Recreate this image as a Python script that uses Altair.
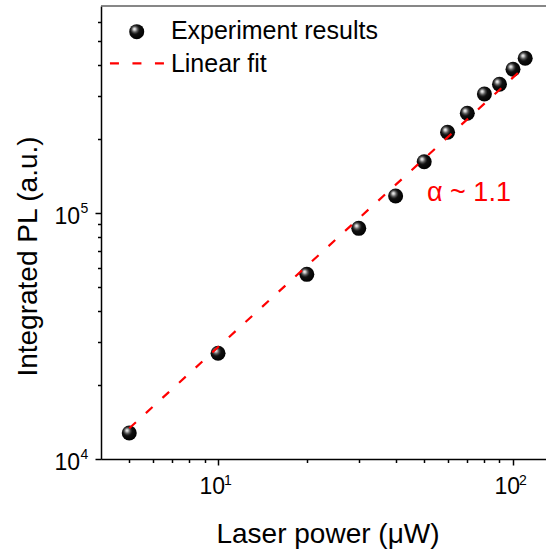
import altair as alt
import pandas as pd

# Measured integrated PL versus excitation power
power_uw = [5, 10, 20, 30, 40, 50, 60, 70, 80, 90, 100, 110]
pl_counts = [12760, 26900, 56300, 86600, 117300, 161600, 212800,
             254300, 304600, 333700, 383900, 425600]

# Power-law fit (slope ~1.1 on log-log axes), end points
fit_power = [5, 110]
fit_pl = [13330, 394500]

# Axis ticks
x_ticks = [5, 6, 7, 8, 9, 10, 20, 30, 40, 50, 60, 70, 80, 90, 100]
y_ticks = [1e4, 2e4, 3e4, 4e4, 5e4, 6e4, 7e4, 8e4, 9e4,
           1e5, 2e5, 3e5, 4e5, 5e5, 6e5]
x_decades = [10, 100]
x_exponents = ["1", "2"]
y_decades = [1e4, 1e5]
y_exponents = ["4", "5"]

X_DOMAIN = [4.01, 129.4]
Y_DOMAIN = [1e4, 6.94e5]

FONT = "Liberation Sans"
RED = "#ff0000"
DASH = [9, 13.5]

xscale = alt.Scale(type="log", domain=X_DOMAIN, nice=False, zero=False)
yscale = alt.Scale(type="log", domain=Y_DOMAIN, nice=False, zero=False)

sphere = alt.RadialGradient(
    gradient="radial",
    x1=0.34, y1=0.32, r1=0.0,
    x2=0.42, y2=0.42, r2=0.62,
    stops=[
        alt.GradientStop(offset=0.0, color="#ffffff"),
        alt.GradientStop(offset=0.12, color="#d2d2d2"),
        alt.GradientStop(offset=0.3, color="#5a5a5a"),
        alt.GradientStop(offset=0.5, color="#101010"),
        alt.GradientStop(offset=1.0, color="#000000"),
    ],
)

x_axis = alt.Axis(
    values=x_ticks, labels=False, grid=False,
    domainColor="black", domainWidth=1.5,
    tickColor="black", tickWidth=1.5,
    tickSize={"condition": {"test": "datum.value === 10 || datum.value === 100",
                            "value": 6}, "value": 3.5},
    title="Laser power (μW)", titleFont=FONT, titleFontSize=28,
    titleFontWeight="normal", titleColor="black",
    titleAlign="center", titleBaseline="alphabetic",
    titleX=226.5, titleY=83,
)
y_axis = alt.Axis(
    values=y_ticks, labels=False, grid=False,
    domainColor="black", domainWidth=1.5,
    tickColor="black", tickWidth=1.5,
    tickSize={"condition": {"test": "datum.value === 10000 || datum.value === 100000",
                            "value": 6}, "value": 3.5},
    title="Integrated PL (a.u.)", titleFont=FONT, titleFontSize=28,
    titleFontWeight="normal", titleColor="black",
    titleAngle=270, titleAlign="center", titleBaseline="alphabetic",
    titleX=-65, titleY=250,
)


def enc(chart, with_x=True):
    # every layer carries the same scales and axis definitions
    kw = {"y": alt.Y("y:Q", scale=yscale, axis=y_axis)}
    if with_x:
        kw["x"] = alt.X("x:Q", scale=xscale, axis=x_axis)
    return chart.encode(**kw)


points_df = pd.DataFrame({"x": power_uw, "y": pl_counts})
fit_df = pd.DataFrame({"x": fit_power, "y": fit_pl})

points = enc(alt.Chart(points_df).mark_circle(size=225, fill=sphere, opacity=1,
                                                strokeWidth=0))

fit_line = enc(alt.Chart(fit_df).mark_line(color=RED, strokeWidth=2.2,
                                           strokeDash=DASH))

# Upper frame line across the plot
top_frame = enc(alt.Chart(pd.DataFrame({"y": [Y_DOMAIN[1]]}))
                .mark_rule(color="#5f5f5f", strokeWidth=1.5), with_x=False)

# Tick labels written as 10 with a raised exponent
xlab_df = pd.DataFrame({"x": x_decades, "y": [Y_DOMAIN[0]] * 2, "e": x_exponents})
ylab_df = pd.DataFrame({"x": [X_DOMAIN[0]] * 2, "y": y_decades, "e": y_exponents})

x_base = enc(alt.Chart(xlab_df).mark_text(text="10", font=FONT, fontSize=23,
                                          align="right", baseline="alphabetic",
                                          dx=7, dy=35.3, color="black"))
x_exp = enc(alt.Chart(xlab_df).mark_text(font=FONT, fontSize=14, align="left",
                                         baseline="alphabetic", dx=6, dy=26,
                                         color="black")).encode(text="e:N")
y_base = enc(alt.Chart(ylab_df).mark_text(text="10", font=FONT, fontSize=23,
                                          align="right", baseline="alphabetic",
                                          dx=-21, dy=11.3, color="black"))
y_exp = enc(alt.Chart(ylab_df).mark_text(font=FONT, fontSize=14, align="left",
                                         baseline="alphabetic", dx=-20.5, dy=0.3,
                                         color="black")).encode(text="e:N")

# Legend, placed in data coordinates at the upper left
leg_ball = enc(alt.Chart(pd.DataFrame({"x": [5.30], "y": [5.46e5]}))
               .mark_circle(size=225, fill=sphere, opacity=1, strokeWidth=0))
leg_line = enc(alt.Chart(pd.DataFrame({"x": [4.30, 6.61], "y": [4.06e5, 4.06e5]}))
               .mark_line(color=RED, strokeWidth=2.2, strokeDash=DASH))
leg_text = enc(alt.Chart(pd.DataFrame({
    "x": [6.92, 6.92], "y": [5.08e5, 3.754e5],
    "t": ["Experiment results", "Linear fit"]}))
    .mark_text(font=FONT, fontSize=25, align="left", baseline="alphabetic",
               color="black")).encode(text="t:N")

alpha_text = enc(alt.Chart(pd.DataFrame({"x": [51.1], "y": [1.12e5]}))
                 .mark_text(text="α ~ 1.1", font=FONT, fontSize=27, align="left",
                            baseline="alphabetic", color=RED))

chart = alt.layer(
    points, fit_line, top_frame, x_base, x_exp, y_base, y_exp,
    leg_ball, leg_line, leg_text, alpha_text,
).properties(
    width=445, height=453,
    padding={"left": 101, "top": 6, "right": 0, "bottom": 92},
    autosize=alt.AutoSizeParams(type="none"),
    background="white",
).configure_view(stroke=None)

chart.save("out.html", embed_options={"renderer": "svg", "actions": False})
